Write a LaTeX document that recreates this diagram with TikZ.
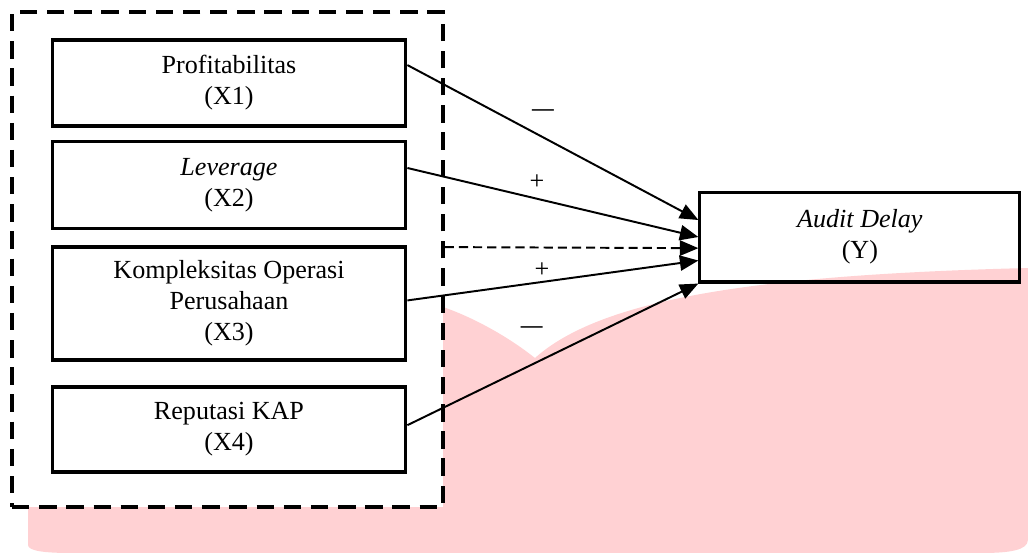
\documentclass[tikz,border=0pt]{standalone}
\usepackage{fontspec}
\setmainfont{Liberation Serif}
\usetikzlibrary{arrows.meta}
\definecolor{merahmuda}{RGB}{255,209,211}
\begin{document}
\begin{tikzpicture}[>={Triangle[length=8.5pt,width=7pt]},x=1cm,y=1cm,
	kotak/.style={draw,line width=1.4pt,minimum width=5.72cm,align=center,inner sep=0pt,font=\fontsize{12}{14.3}\selectfont},
	panah/.style={->,line width=0.9pt},
	tanda/.style={inner sep=0pt,font=\fontsize{12}{14}\selectfont}]
	\useasboundingbox (0,0) rectangle (16.62,8.94);
	% latar merah muda
	\fill[merahmuda] (0.453,4.09) -- (0.453,0.129) .. controls (0.453,0.032) and (0.727,0) .. (1.132,0) -- (15.891,0) .. controls (16.327,0) and (16.618,0.048) .. (16.618,0.21) -- (16.618,4.607) .. controls (12.124,4.494) and (9.699,4.09) .. (8.649,3.152) .. controls (8.244,3.476) and (7.679,3.799) .. (7.161,3.977) -- cycle;
	\node[draw,fill=white,line width=1.7pt,dash pattern=on 8pt off 4.5pt,minimum width=6.967cm,minimum height=8.0cm,inner sep=0pt] (grup) at (3.678,4.745) {};
	\node[kotak,minimum height=1.39cm] (x1) at (3.702,7.598) {Profitabilitas\\(X1)};
	\node[kotak,minimum height=1.42cm] (x2) at (3.702,5.949) {\textit{Leverage}\\(X2)};
	\node[kotak,minimum height=1.827cm] (x3) at (3.702,4.033) {Kompleksitas Operasi\\Perusahaan\\(X3)};
	\node[kotak,minimum height=1.374cm] (x4) at (3.702,1.996) {Reputasi KAP\\(X4)};
	\node[kotak,minimum width=5.173cm,minimum height=1.455cm] (y) at (13.902,5.108) {\textit{Audit Delay}\\(Y)};
	\draw[panah] ([yshift=0.29cm]x1.east) -- ([yshift=0.275cm]y.west);
	\draw[panah] ([yshift=0.275cm]x2.east) -- (y.west);
	\draw[panah,dash pattern=on 4.2pt off 2.3pt] ([yshift=0.2cm]grup.east) -- ([yshift=-0.18cm]y.west);
	\draw[panah] ([yshift=0.05cm]x3.east) -- ([yshift=-0.38cm]y.west);
	\draw[panah] ([yshift=0.07cm]x4.east) -- (y.south west);
	\node[tanda,font=\fontsize{10}{12}\selectfont] (m1) at (8.778,7.113) {\textbf{—}};
	\node[tanda] (p1) at (8.681,5.997) {+};
	\node[tanda] (p2) at (8.762,4.575) {+};
	\node[tanda,font=\fontsize{10}{12}\selectfont] (m2) at (8.600,3.605) {\textbf{—}};
\end{tikzpicture}
\end{document}
